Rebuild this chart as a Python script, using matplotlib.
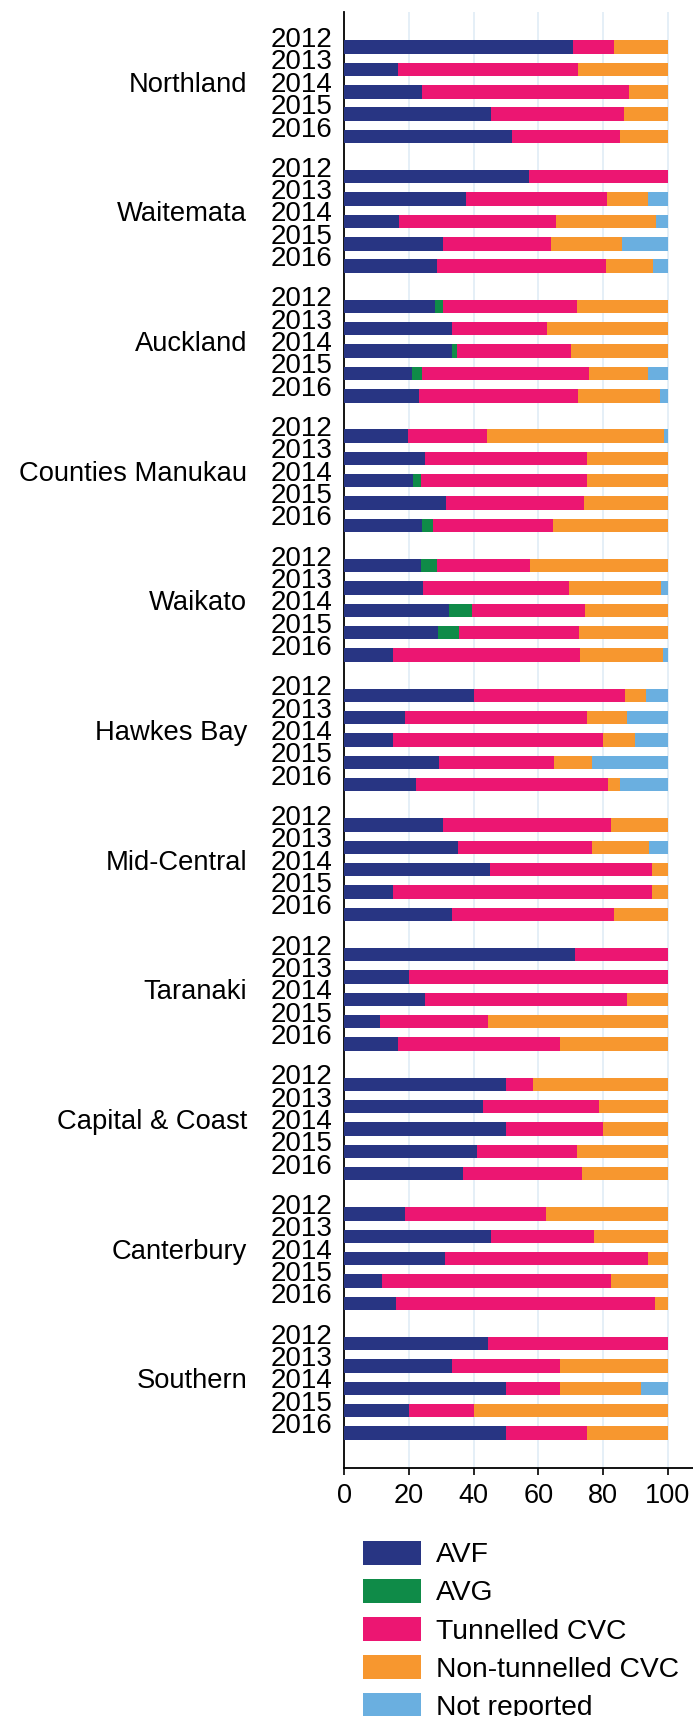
import numpy as np
import matplotlib
matplotlib.use("Agg")
import matplotlib.pyplot as plt
from matplotlib.patches import Patch
from matplotlib.transforms import blended_transform_factory, offset_copy

plt.rcParams['font.family'] = ['Liberation Sans', 'DejaVu Sans']

# Dialysis access type at first treatment, % of patients, by DHB and year
regions = ["Northland", "Waitemata", "Auckland", "Counties Manukau", "Waikato",
           "Hawkes Bay", "Mid-Central", "Taranaki", "Capital & Coast",
           "Canterbury", "Southern"]
years = ["2012", "2013", "2014", "2015", "2016"]

avf = [70.8, 16.7, 24.0, 45.5, 51.9,
       57.1, 37.5, 17.0, 30.4, 28.6,
       28.0, 33.2, 33.3, 21.0, 23.1,
       19.6, 25.0, 21.3, 31.3, 24.0,
       23.6, 24.3, 32.5, 29.0, 15.1,
       40.0, 18.75, 15.0, 29.4, 22.2,
       30.4, 35.3, 45.0, 15.0, 33.3,
       71.4, 20.0, 25.0, 11.1, 16.7,
       50.0, 42.9, 50.0, 40.9, 36.7,
       18.75, 45.5, 31.25, 11.8, 16.0,
       44.4, 33.3, 50.0, 20.0, 50.0]
avg = [0, 0, 0, 0, 0,
       0, 0, 0, 0, 0,
       2.6, 0, 1.6, 3.0, 0,
       0, 0, 2.4, 0, 3.3,
       5.2, 0, 7.0, 6.5, 0,
       0, 0, 0, 0, 0,
       0, 0, 0, 0, 0,
       0, 0, 0, 0, 0,
       0, 0, 0, 0, 0,
       0, 0, 0, 0, 0,
       0, 0, 0, 0, 0]
tunnelled = [12.5, 55.6, 64.0, 40.9, 33.3,
             42.9, 43.75, 48.5, 33.4, 52.4,
             41.2, 29.5, 35.2, 51.7, 49.1,
             24.5, 50.0, 51.4, 42.7, 37.1,
             28.7, 45.1, 34.9, 37.1, 57.7,
             46.7, 56.25, 65.0, 35.3, 59.3,
             52.2, 41.2, 50.0, 80.0, 50.0,
             28.6, 80.0, 62.5, 33.3, 50.0,
             8.3, 35.7, 30.0, 30.9, 36.7,
             43.75, 31.8, 62.5, 70.6, 80.0,
             55.6, 33.3, 16.7, 20.0, 25.0]
non_tunnelled = [16.7, 27.7, 12.0, 13.6, 14.8,
                 0, 12.5, 30.9, 22.2, 14.3,
                 28.2, 37.3, 29.9, 18.3, 25.4,
                 54.8, 25.0, 24.9, 26.0, 35.6,
                 42.5, 28.5, 25.6, 27.4, 25.8,
                 6.6, 12.5, 10.0, 11.8, 3.7,
                 17.4, 17.6, 5.0, 5.0, 16.7,
                 0, 0, 12.5, 55.6, 33.3,
                 41.7, 21.4, 20.0, 28.2, 26.6,
                 37.5, 22.7, 6.25, 17.6, 4.0,
                 0, 33.4, 25.0, 60.0, 25.0]
not_reported = [0, 0, 0, 0, 0,
                0, 6.25, 3.6, 14.0, 4.7,
                0, 0, 0, 6.0, 2.4,
                1.1, 0, 0, 0, 0,
                0, 2.1, 0, 0, 1.4,
                6.7, 12.5, 10.0, 23.5, 14.8,
                0, 5.9, 0, 0, 0,
                0, 0, 0, 0, 0,
                0, 0, 0, 0, 0,
                0, 0, 0, 0, 0,
                0, 0, 8.3, 0, 0]

series = [("AVF", avf, "#283583"),
          ("AVG", avg, "#0f8b48"),
          ("Tunnelled CVC", tunnelled, "#ec1672"),
          ("Non-tunnelled CVC", non_tunnelled, "#f7972f"),
          ("Not reported", not_reported, "#6aafe0")]

n_years = len(years)
group_step = 5.8
pos = np.array([g * group_step + i for g in range(len(regions))
                for i in range(n_years)])

fig = plt.figure(figsize=(6.93, 17.16), dpi=100)
ax = fig.add_axes([0.4968, 0.1445, 0.5032, 0.8485])

left = np.zeros(len(pos))
for name, vals, col in series:
    vals = np.array(vals, dtype=float)
    ax.barh(pos, vals, left=left, height=0.6, color=col, edgecolor="none",
            zorder=3)
    left += vals

ax.set_xlim(0, 107.8)
ax.set_ylim(pos[-1] + 1.57, -1.57)
ax.set_xticks([0, 20, 40, 60, 80, 100])
ax.set_yticks([])
ax.tick_params(axis="x", labelsize=19.5, length=5, width=1.2, pad=6)
for x in [20, 40, 60, 80, 100]:
    ax.axvline(x, color="#e3eef7", lw=1.3, zorder=1)
for s in ["top", "right"]:
    ax.spines[s].set_visible(False)
ax.spines["left"].set_linewidth(1.3)
ax.spines["bottom"].set_linewidth(1.3)

# year labels next to each bar, region name beside the middle year
trans = blended_transform_factory(ax.transAxes, ax.transData)
year_tr = offset_copy(trans, fig=fig, x=-12, y=7, units="dots")
region_tr = offset_copy(trans, fig=fig, x=-97, y=7, units="dots")
for g, region in enumerate(regions):
    for i, yr in enumerate(years):
        ax.text(0, pos[g * n_years + i], yr, transform=year_tr, ha="right",
                va="center", fontsize=20)
    ax.text(0, pos[g * n_years + 2], region, transform=region_tr, ha="right",
            va="center", fontsize=19.7)

handles = [Patch(facecolor=col, edgecolor="none") for _, _, col in series]
labels = [name for name, _, _ in series]
fig.legend(handles, labels, loc="upper left", bbox_to_anchor=(0.5238, 0.1022),
           frameon=False, fontsize=20.3, handlelength=2.06, handleheight=0.93,
           handletextpad=0.53, labelspacing=0.37, borderpad=0, borderaxespad=0)

fig.savefig("out.png", dpi=100)
